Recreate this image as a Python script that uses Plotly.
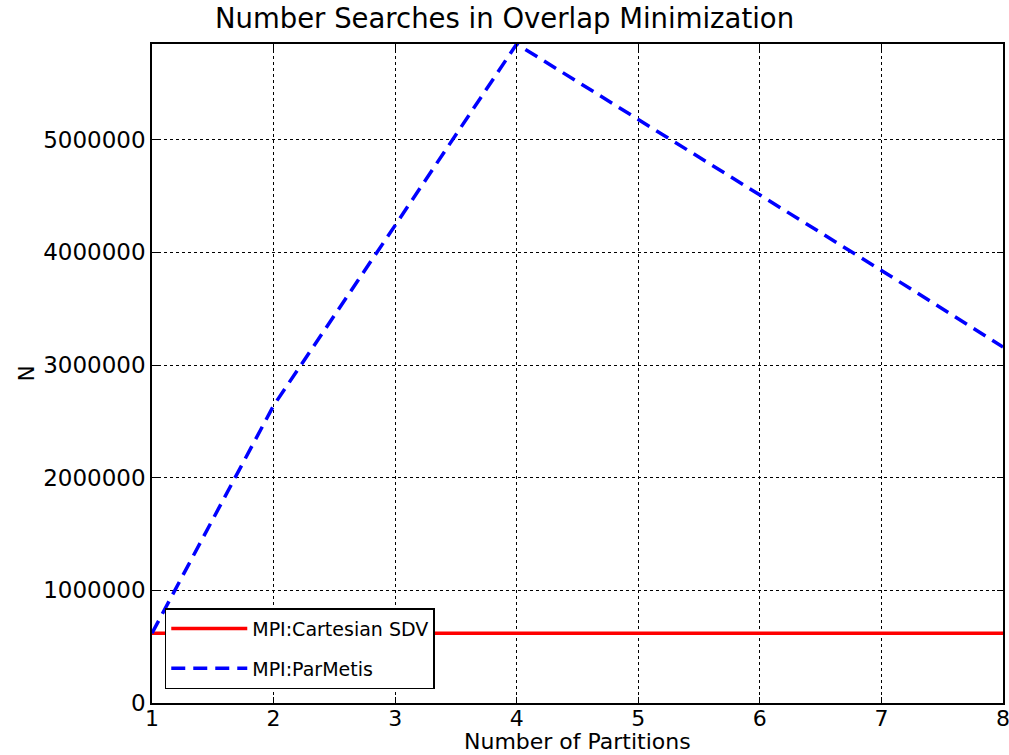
import plotly.graph_objects as go

partitions = [1, 2, 3, 4, 5, 6, 7, 8]
cartesian_sdv = [620000, 620000, 620000, 620000, 620000, 620000, 620000, 620000]
parmetis = [620000, 2640000, 4240000, 5850000, 5180000, 4510000, 3840000, 3160000]
y_ticks = [0, 1000000, 2000000, 3000000, 4000000, 5000000]

fig = go.Figure()
fig.add_trace(go.Scatter(x=partitions, y=cartesian_sdv, mode="lines", name="MPI:Cartesian SDV",
                         legendgroup="a", line=dict(color="#ff0000", width=3.5)))
fig.add_trace(go.Scatter(x=partitions, y=parmetis, mode="lines", name="MPI:ParMetis",
                         legendgroup="b", line=dict(color="#0000ff", width=3.5, dash="14px,8px")))

font = "DejaVu Sans, sans-serif"
fig.update_layout(
    width=1009, height=755,
    margin=dict(l=152, r=6, t=44, b=52),
    paper_bgcolor="white", plot_bgcolor="white",
    font=dict(family=font, color="black"),
    title=dict(text="Number Searches in Overlap Minimization", x=0.5, xanchor="center",
               y=1 - 18 / 755, yanchor="middle", font=dict(size=27.5, family=font)),
    showlegend=True,
    legend=dict(x=0.015, y=0.021, xanchor="left", yanchor="bottom", bgcolor="white",
                bordercolor="black", borderwidth=1.5, font=dict(size=19, family=font),
                itemwidth=76, traceorder="grouped", tracegroupgap=12),
)
fig.add_annotation(text="Number of Partitions", xref="paper", yref="paper",
                   x=0.5, y=-(741 - 703) / 659, xanchor="center", yanchor="middle",
                   showarrow=False, borderpad=0,
                   font=dict(size=22, family=font, color="black"))
fig.update_xaxes(range=[1, 8], tickvals=partitions, ticktext=[str(v) for v in partitions],
                 showline=True, linecolor="black", linewidth=1.5, mirror="ticks",
                 ticks="inside", ticklen=6, tickcolor="black", automargin=False,
                 ticklabeloverflow="allow", ticklabelstandoff=-5,
                 showgrid=True, gridcolor="black", griddash="dot", gridwidth=1,
                 zeroline=False, tickfont=dict(size=22))
fig.update_yaxes(range=[0, max(parmetis)], tickvals=y_ticks, ticktext=[str(v) for v in y_ticks],
                 showline=True, linecolor="black", linewidth=1.5, mirror="ticks",
                 ticks="inside", ticklen=6, tickcolor="black", automargin=False,
                 ticklabeloverflow="allow",
                 showgrid=True, gridcolor="black", griddash="dot", gridwidth=1,
                 zeroline=False, tickfont=dict(size=23),
                 title=dict(text="N", font=dict(size=21), standoff=3))

fig.write_html("out.html")
